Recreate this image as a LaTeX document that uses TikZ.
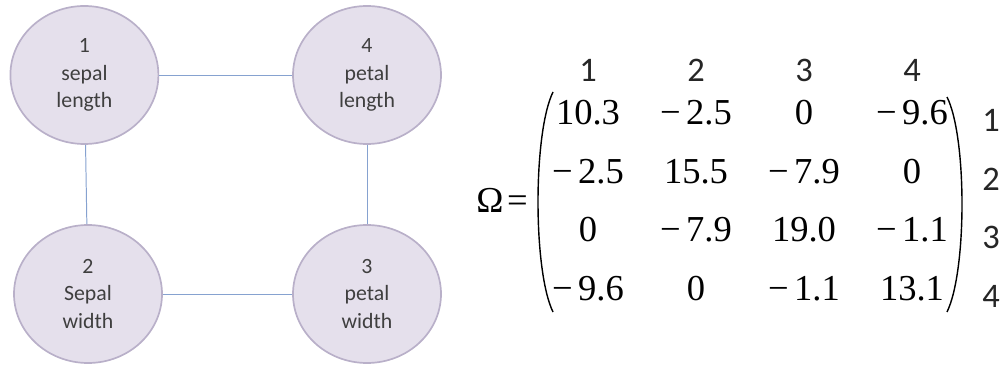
\documentclass[tikz,border=0pt]{standalone}
\usepackage{fontspec}
\setmainfont{Liberation Serif}
\newfontfamily\lblfont{Carlito}
\usepackage{xcolor}
\definecolor{featfill}{HTML}{E5E0EC}
\definecolor{featline}{HTML}{B9B0C9}
\definecolor{edgeblue}{HTML}{86A2D0}
\definecolor{labelgray}{HTML}{3F3F3F}
\usetikzlibrary{shapes.geometric, matrix, positioning}
\newcommand{\mneg}[1]{−\hspace{0.15em}#1}

\begin{document}
\begin{tikzpicture}[
  feat/.style={ellipse, draw=featline, fill=featfill, line width=1.2pt,
    minimum width=3.7cm, minimum height=3.45cm, inner sep=0pt, align=center,
    text=labelgray, font=\lblfont\fontsize{15.5}{19.5}\selectfont},
  link/.style={draw=edgeblue, line width=0.7pt},
  idx/.style={anchor=base, inner sep=0pt, text=black!85, font=\lblfont\fontsize{24.5}{28}\selectfont},
  entry/.style={inner sep=0pt, text height=0.6cm, text depth=0.1cm, minimum width=1.9cm}
]
\useasboundingbox (0,0) rectangle (25.2,9.125);

% graph of the four features
\node[feat] (sl) at (2.11, 7.25)  {1\\sepal\\length};
\node[feat] (pl) at (9.175, 7.25) {4\\petal\\length};
\node[feat] (sw) at (2.2, 1.775)  {2\\Sepal\\width};
\node[feat] (pw) at (9.175, 1.775) {3\\petal\\width};

\draw[link] (sl) -- (pl);
\draw[link] (sl) -- (sw);
\draw[link] (pl) -- (pw);
\draw[link] (sw) -- (pw);

% precision matrix
\node[anchor=base east, inner sep=0pt, font=\fontsize{26}{30}\selectfont]
  (lhs) at (13.2, 3.8) {Ω\hspace{0.1em}=};

\matrix (omega) [matrix of nodes, nodes={entry}, column sep=0.8cm, row sep=0.76cm,
  font=\fontsize{26}{30}\selectfont] at (18.75, 4.06) {
  10.3       & \mneg{2.5} & 0          & \mneg{9.6} \\
  \mneg{2.5} & 15.5       & \mneg{7.9} & 0          \\
  0          & \mneg{7.9} & 19.0       & \mneg{1.1} \\
  \mneg{9.6} & 0          & \mneg{1.1} & 13.1       \\
};

\draw[line width=1pt] (13.825, 6.825) .. controls (13.325, 5.8) and (13.325, 2.35) .. (13.825, 1.325);
\draw[line width=1pt] (23.675, 6.7) .. controls (24.175, 5.7) and (24.175, 2.35) .. (23.675, 1.325);

\foreach \j in {1,...,4}
  \node[idx] (col\j) at ([yshift=1.075cm]omega-1-\j.base) {\j};
\foreach \i in {1,...,4}
  \node[idx] (row\i) at ([xshift=1.975cm, yshift=-0.175cm]omega-\i-4.base) {\i};
\end{tikzpicture}
\end{document}
